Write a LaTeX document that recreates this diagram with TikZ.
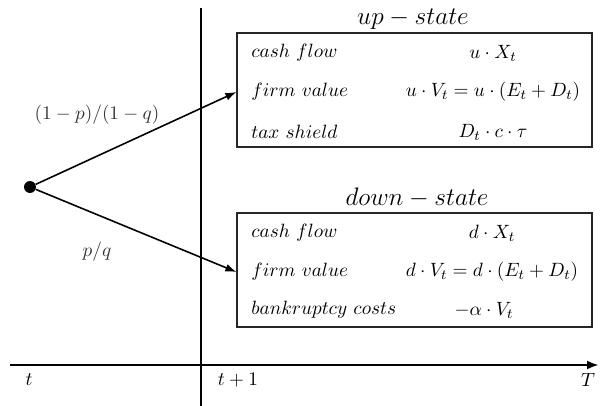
\documentclass[tikz,border=0pt]{standalone}
\usepackage{amsmath,amssymb}
\usepackage{tikz}
\usetikzlibrary{arrows.meta,positioning,calc}

\begin{document}
\begin{tikzpicture}[
  x=0.02cm, y=-0.02cm,
  every node/.style={font=\fontsize{11}{13}\selectfont},
  statebox/.style={rectangle, draw=black!85, line width=0.7pt,
    minimum width=7.1cm, minimum height=2.28cm, inner sep=0pt},
  rowlabel/.style={anchor=west, inner sep=0pt},
  rowvalue/.style={inner sep=0pt},
  title/.style={font=\fontsize{15.5}{18}\selectfont, inner sep=0pt},
  arrow/.style={-{Latex[length=2.2mm,width=1.6mm]}, line width=0.9pt},
  axis/.style={-{Latex[length=2.4mm,width=1.8mm]}, line width=1.3pt},
]
\useasboundingbox (0,0) rectangle (600,406);

% Time axis and divider
\coordinate (axstart) at (10,365);
\coordinate (axend) at (599,365);
\coordinate (divtop) at (201,8);
\coordinate (divbot) at (201,406);
\draw[line width=1pt] (divtop) -- (divbot);
\draw[axis] (axstart) -- (axend);
\node[inner sep=0pt] (tnow) at (29,380) {$t$};
\node[inner sep=0pt] (tnext) at (238,380) {$t+1$};
\node[inner sep=0pt] (tend) at (588,380) {$T$};

% Starting point
\node[circle, fill=black, minimum size=0.24cm, inner sep=0pt] (start) at (30,187) {};

% Up state
\node[title] (uptitle) at (413,19) {$up-state$};
\node[statebox] (upbox) at (414.5,90) {};
\node[rowlabel] (upcash) at (251,53) {$cash\ flow$};
\node[rowlabel] (upfirm) at (251,92) {$firm\ value$};
\node[rowlabel] (uptax) at (251,132) {$tax\ shield$};
\node[rowvalue] (upcashv) at (493,53) {$u\cdot X_t$};
\node[rowvalue] (upfirmv) at (493,92) {$u\cdot V_t=u\cdot(E_t+D_t)$};
\node[rowvalue] (uptaxv) at (493,132) {$D_t\cdot c\cdot\tau$};

% Down state
\node[title] (downtitle) at (417,198) {$down-state$};
\node[statebox] (downbox) at (414.5,270) {};
\node[rowlabel] (dncash) at (251,233) {$cash\ flow$};
\node[rowlabel] (dnfirm) at (251,272) {$firm\ value$};
\node[rowlabel] (dnbank) at (251,310) {$bankruptcy\ costs$};
\node[rowvalue] (dncashv) at (492,233) {$d\cdot X_t$};
\node[rowvalue] (dnfirmv) at (492,272) {$d\cdot V_t=d\cdot(E_t+D_t)$};
\node[rowvalue] (dnbankv) at (484,310) {$-\alpha\cdot V_t$};

% Branch probabilities
\node[inner sep=0pt, text=black!80] (probup) at (97,115) {$(1-p)/(1-q)$};
\node[inner sep=0pt, text=black!80] (probdn) at (97,252) {$p/q$};

% Arrows
\draw[arrow] (start) -- (upbox.west |- upfirm);
\draw[arrow] (start) -- (downbox.west |- dnfirm);
\end{tikzpicture}
\end{document}
